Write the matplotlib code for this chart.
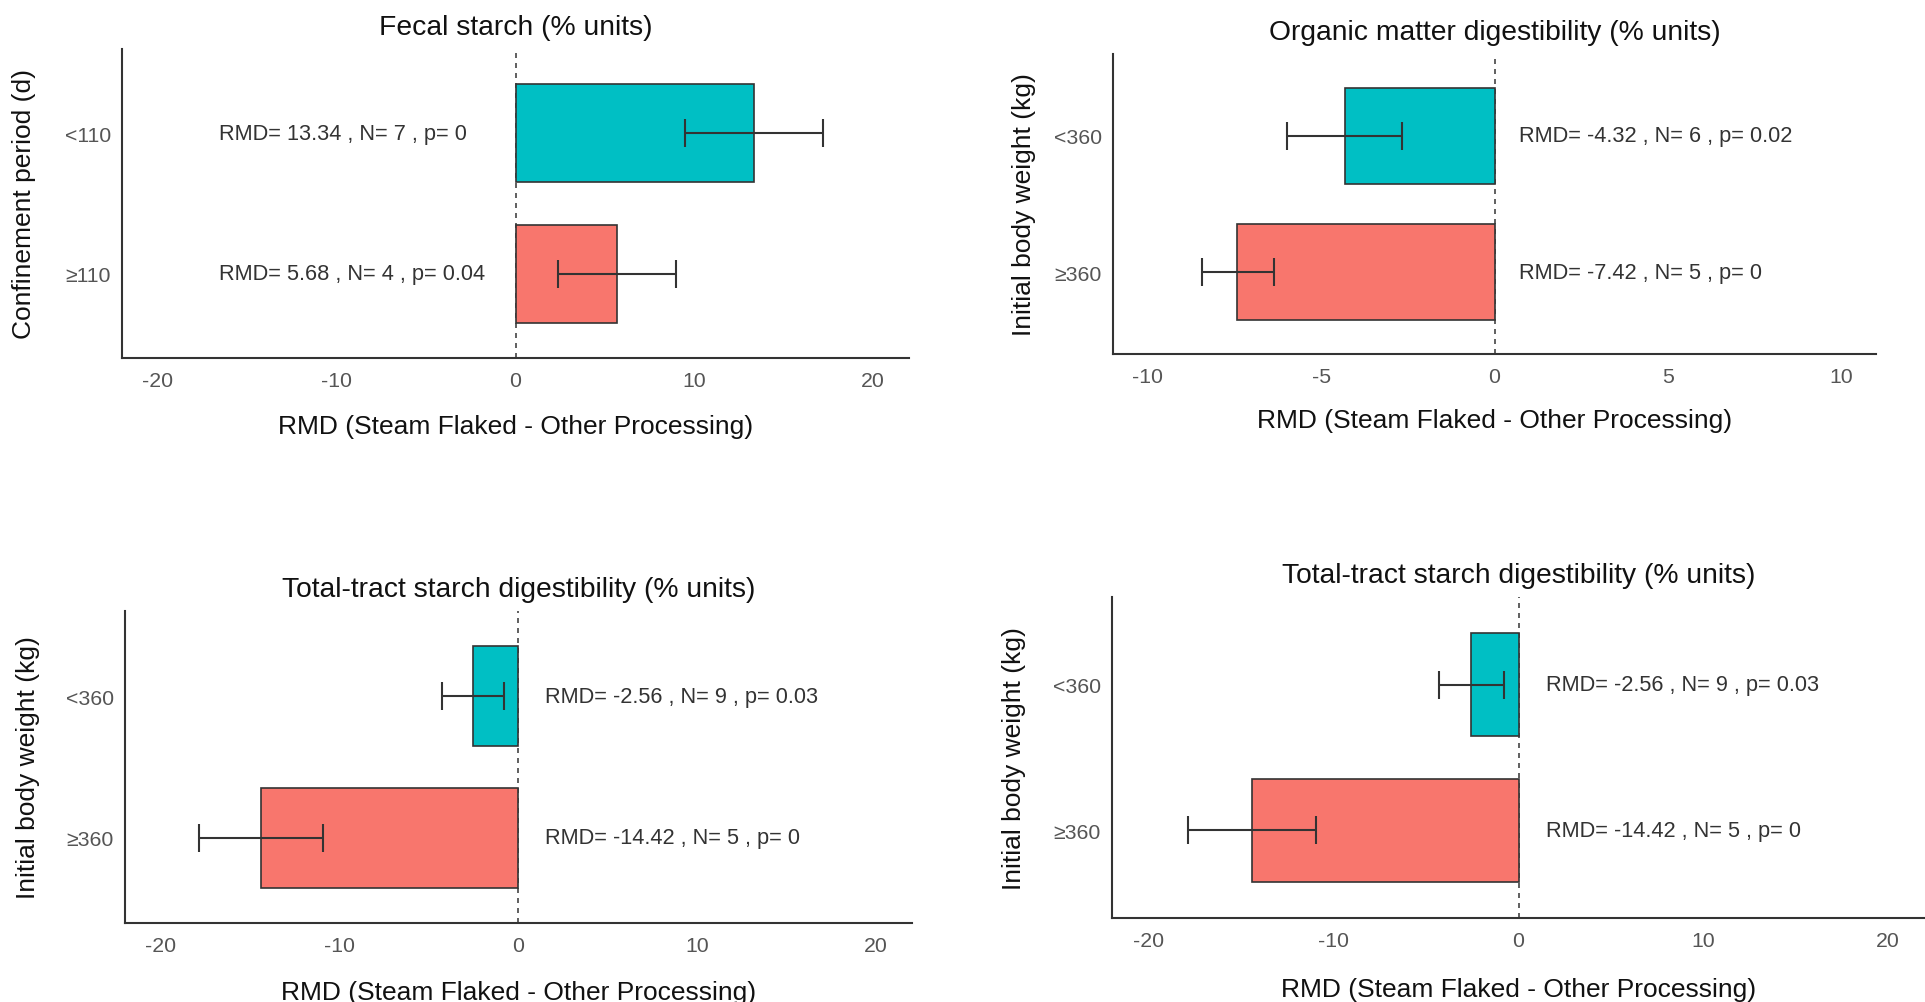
import numpy as np
import matplotlib.pyplot as plt

plt.rcParams['font.family'] = ['Liberation Sans', 'DejaVu Sans']
plt.rcParams['axes.unicode_minus'] = False

TEAL = '#00BFC4'
RED = '#F8766D'

# panel data (top row first); second group in each list is the lower bar
titles = ['Fecal starch (% units)',
          'Organic matter digestibility (% units)',
          'Total-tract starch digestibility (% units)',
          'Total-tract starch digestibility (% units)']
ylabels = ['Confinement period (d)', 'Initial body weight (kg)',
           'Initial body weight (kg)', 'Initial body weight (kg)']
groups = [['<110', '\u2265110'], ['<360', '\u2265360'],
          ['<360', '\u2265360'], ['<360', '\u2265360']]
rmd = [[13.34, 5.68], [-4.32, -7.42], [-2.56, -14.42], [-2.56, -14.42]]
ci_low = [[9.5, 2.4], [-5.97, -8.43], [-4.3, -17.88], [-4.32, -17.88]]
ci_high = [[17.2, 9.0], [-2.66, -6.35], [-0.8, -10.94], [-0.81, -10.94]]
n_studies = [[7, 4], [6, 5], [9, 5], [9, 5]]
p_values = [['0', '0.04'], ['0.02', '0'], ['0.03', '0'], ['0.03', '0']]
xticks = [[-20, -10, 0, 10, 20], [-10, -5, 0, 5, 10],
          [-20, -10, 0, 10, 20], [-20, -10, 0, 10, 20]]
xlims = [(-22, 22), (-11, 11), (-22, 22), (-22, 22)]
label_x = [-16.6, 0.7, 1.5, 1.5]

# axes boxes in pixels: left, right, top, bottom
W, H = 1925, 1003
boxes = [(122, 909, 50, 359), (1113, 1876, 55, 355),
         (125, 912, 612, 924), (1112, 1925, 598, 919)]
ylab_off = [98, 89, 97, 98]

fig = plt.figure(figsize=(W / 100, H / 100), dpi=100)

for i in range(4):
    l, r, t, b = boxes[i]
    ax = fig.add_axes([l / W, 1 - b / H, (r - l) / W, (b - t) / H])
    ypos = np.array([2, 1])
    vals = np.array(rmd[i])
    lo = vals - np.array(ci_low[i])
    hi = np.array(ci_high[i]) - vals

    ax.axvline(0, color='#444444', lw=1.2, ls=(0, (3, 3)), zorder=1)
    ax.barh(ypos, vals, height=0.7, color=[TEAL, RED],
            edgecolor='#333333', linewidth=1.2, zorder=2)
    ax.errorbar(vals, ypos, xerr=[lo, hi], fmt='none', ecolor='#333333',
                elinewidth=1.5, capsize=10, capthick=1.5, zorder=3)
    for j in range(2):
        ax.text(label_x[i], ypos[j],
                f'RMD= {rmd[i][j]} , N= {n_studies[i][j]} , p= {p_values[i][j]}',
                ha='left', va='center', fontsize=15.7, color='#333333', zorder=4)

    ax.set_xlim(*xlims[i])
    ax.set_ylim(0.4, 2.6)
    ax.set_xticks(xticks[i])
    ax.set_yticks(ypos)
    ax.set_yticklabels(groups[i])
    ax.tick_params(axis='both', length=0, labelsize=15.3, labelcolor='#555555')
    ax.tick_params(axis='x', pad=9.5)
    ax.tick_params(axis='y', pad=8)

    for s in ['top', 'right']:
        ax.spines[s].set_visible(False)
    for s in ['left', 'bottom']:
        ax.spines[s].set_color('#333333')
        ax.spines[s].set_linewidth(1.5)

    ax.set_title(titles[i], fontsize=20.3, color='#111111', pad=11)
    ax.set_xlabel('RMD (Steam Flaked - Other Processing)', fontsize=19,
                  color='#111111', va='center')
    ax.xaxis.set_label_coords(0.5, -0.22)
    ax.set_ylabel(ylabels[i], fontsize=19, color='#111111', va='center')
    ax.yaxis.set_label_coords(-ylab_off[i] / (r - l), 0.5)

fig.savefig('out.png', dpi=100, facecolor='white')
